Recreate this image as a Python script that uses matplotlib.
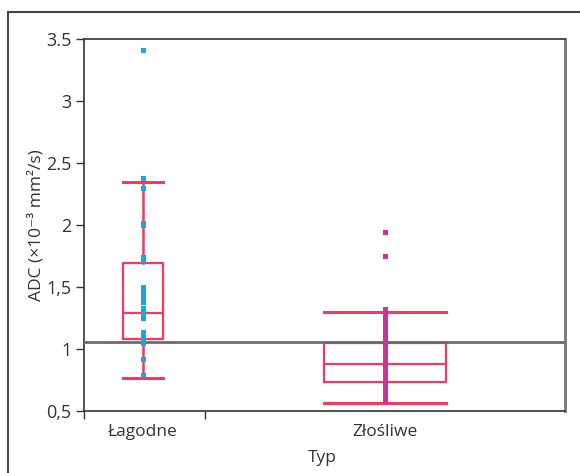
import numpy as np
import matplotlib
matplotlib.use('Agg')
import matplotlib.pyplot as plt
from matplotlib.lines import Line2D

plt.rcParams['font.family'] = ['Open Sans', 'DejaVu Sans']

# categories and summary stats
categories = ['Łagodne', 'Złośliwe']
whislo = [0.765, 0.567]
q1 = [1.08, 0.73]
med = [1.29, 0.876]
q3 = [1.69, 1.045]
whishi = [2.35, 1.30]

# individual points
lagodne_pts = [3.41, 2.38, 2.30, 2.02, 2.00, 1.74, 1.72, 1.50, 1.47, 1.44, 1.41, 1.38,
               1.33, 1.30, 1.27, 1.25, 1.14, 1.12, 1.10, 1.08, 1.06, 1.045, 0.92, 0.79]
zlosliwe_pts = [1.94, 1.75, 1.32, 1.30, 1.27, 1.24, 1.20, 1.18, 1.15, 1.12, 1.10, 1.08,
                1.05, 1.03, 1.01, 0.99, 0.97, 0.95, 0.93, 0.91, 0.89, 0.87, 0.85, 0.83,
                0.81, 0.79, 0.77, 0.75, 0.73, 0.71, 0.69, 0.67, 0.65, 0.63, 0.61, 0.59, 0.58]

cutoff = 1.06
ytick_vals = [0.5, 1, 1.5, 2, 2.5, 3, 3.5]
ytick_labels = ['0,5', '1', '1,5', '2', '2.5', '3', '3.5']

box_col = '#EE3B5E'
pt_cols = ['#1BA6DE', '#C9369A']
txt_col = '#333333'

fig = plt.figure(figsize=(5.8, 4.73), dpi=100)
ax = fig.add_axes([84/580, 62/473, 481/580, 372/473])

stats = []
for i in range(2):
    stats.append(dict(whislo=whislo[i], q1=q1[i], med=med[i], q3=q3[i], whishi=whishi[i], fliers=[]))

widths = [0.169, 0.504]
ax.bxp(stats, positions=[0, 1], widths=widths, capwidths=widths, showfliers=False,
       boxprops=dict(color=box_col, linewidth=1.6),
       medianprops=dict(color=box_col, linewidth=1.6),
       whiskerprops=dict(color=box_col, linewidth=1.8),
       capprops=dict(color=box_col, linewidth=2.2))

ax.axhline(cutoff, color='#6b6b6b', linewidth=2, zorder=3)

for i, pts in enumerate([lagodne_pts, zlosliwe_pts]):
    ax.plot([i] * len(pts), pts, 's', color=pt_cols[i], markersize=3.6,
            markeredgewidth=0, zorder=4)

ax.set_ylim(0.5, 3.5)
ax.set_xlim(-59/242, 1 + 180/242)
ax.set_yticks(ytick_vals)
ax.set_yticklabels(ytick_labels, fontsize=13, color=txt_col)
ax.set_xticks([-59/242, 62/242])
ax.set_xticklabels(['', ''])
ax.tick_params(axis='both', length=6, width=1, color=txt_col)
ax.tick_params(axis='y', pad=3)

for i, c in enumerate(categories):
    ax.text(i, -0.035, c, transform=ax.get_xaxis_transform(), ha='center', va='top',
            fontsize=12.5, color=txt_col)

ax.text(322/580, 15/473, 'Typ', transform=fig.transFigure, ha='center', va='center',
        fontsize=12.5, color=txt_col)
ax.set_ylabel('ADC (×10⁻³ mm²/s)', fontsize=12.5, color=txt_col, labelpad=1)

for s in ['left', 'bottom', 'top']:
    ax.spines[s].set_color(txt_col)
    ax.spines[s].set_linewidth(1.2)
ax.spines['right'].set_color('#777777')
ax.spines['right'].set_linewidth(2)

# outer frame (open at right and bottom)
fig.add_artist(Line2D([8/580, 8/580], [0, 1 - 12/473], transform=fig.transFigure,
                      color='#444444', linewidth=1.5))
fig.add_artist(Line2D([8/580, 1], [1 - 12/473, 1 - 12/473], transform=fig.transFigure,
                      color='#444444', linewidth=1.5))

plt.savefig('out.png', dpi=100)
